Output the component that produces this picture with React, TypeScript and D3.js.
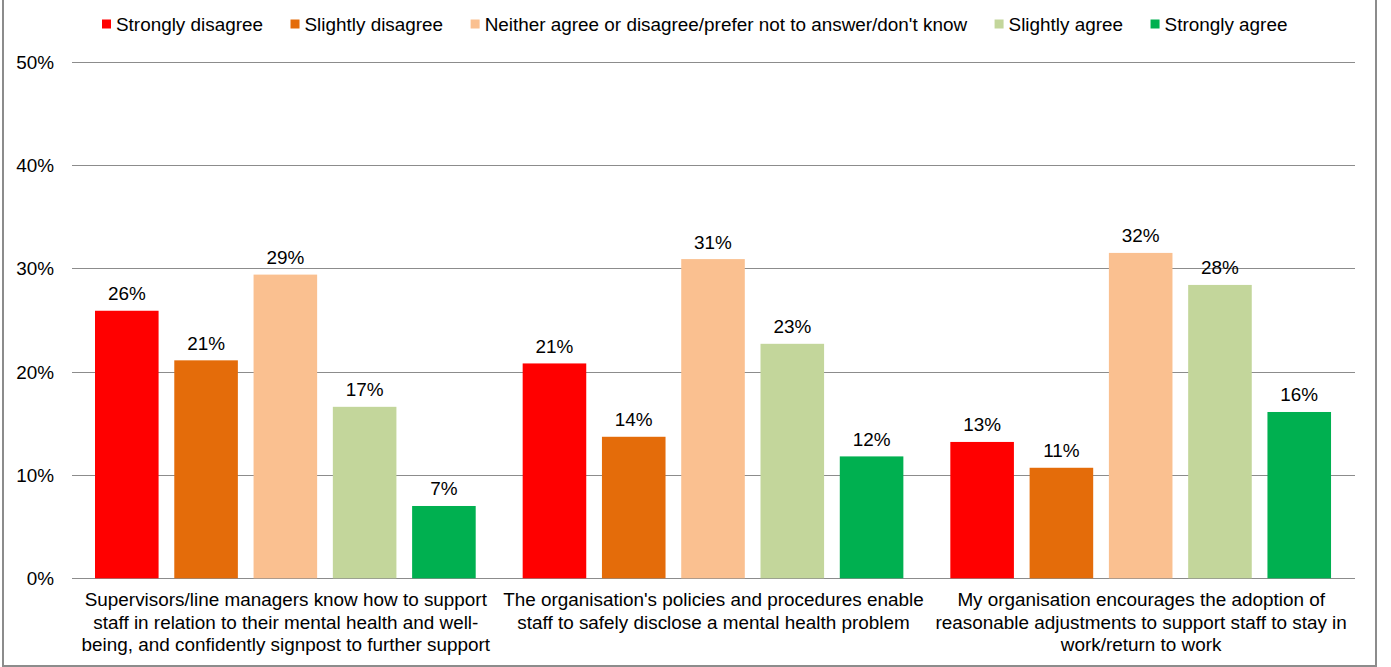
import React, { useEffect, useRef } from "react";
import * as d3 from "d3";

const seriesNames = [
  "Strongly disagree",
  "Slightly disagree",
  "Neither agree or disagree/prefer not to answer/don't know",
  "Slightly agree",
  "Strongly agree",
];
const seriesColors = ["#FF0000", "#E46C0A", "#FAC090", "#C3D69B", "#00B050"];
const categoryLines = [
  [
    "Supervisors/line managers know how to support",
    "staff in relation to their mental health and well-",
    "being, and confidently signpost to further support",
  ],
  [
    "The organisation's policies and procedures enable",
    "staff to safely disclose a mental health problem",
  ],
  [
    "My organisation encourages the adoption of",
    "reasonable adjustments to support staff to stay in",
    "work/return to work",
  ],
];
// values in %, per category, per series
const stronglyDisagree = [25.9, 20.8, 13.2];
const slightlyDisagree = [21.1, 13.7, 10.7];
const neither = [29.4, 30.9, 31.5];
const slightlyAgree = [16.6, 22.7, 28.4];
const stronglyAgree = [7.0, 11.8, 16.1];
const seriesValues = [stronglyDisagree, slightlyDisagree, neither, slightlyAgree, stronglyAgree];
const yTicks = [0, 10, 20, 30, 40, 50];

const W = 1391;
const H = 667;
const FONT = "'Liberation Sans', Arial, sans-serif";
const FS = 18.9;

export default function App() {
  const ref = useRef<SVGSVGElement>(null);

  useEffect(() => {
    const svg = d3.select(ref.current);
    svg.selectAll("*").remove();

    const left = 72, right = 1355, top = 61.8, bottom = 578.3;

    svg.append("rect")
      .attr("x", 3).attr("y", -2).attr("width", 1373).attr("height", 668)
      .attr("fill", "#fff").attr("stroke", "#8c8c8c").attr("stroke-width", 2);

    const x0 = d3.scaleBand<number>().domain([0, 1, 2]).range([left, right]).paddingInner(0).paddingOuter(0);
    const x1 = d3.scaleBand<number>().domain([0, 1, 2, 3, 4])
      .range([23, 23 + 380.7]).paddingInner(0.198).paddingOuter(0);
    const y = d3.scaleLinear().domain([0, 50]).range([bottom, top]);

    // gridlines
    svg.append("g").selectAll("line").data(yTicks).join("line")
      .attr("x1", left).attr("x2", right)
      .attr("y1", (d) => Math.round(y(d)) + 0.5).attr("y2", (d) => Math.round(y(d)) + 0.5)
      .attr("stroke", "#8c8c8c").attr("stroke-width", 1);

    // y tick labels
    svg.append("g").selectAll("text").data(yTicks).join("text")
      .attr("x", 54).attr("y", (d) => y(d) + 6.8)
      .attr("text-anchor", "end")
      .attr("font-family", FONT).attr("font-size", FS).attr("fill", "#000")
      .text((d) => `${d}%`);

    // bars
    const groups = svg.append("g").selectAll("g").data([0, 1, 2]).join("g")
      .attr("transform", (c) => `translate(${x0(c)},0)`);
    groups.each(function (c) {
      const g = d3.select(this);
      const items = seriesValues.map((vals, s) => ({ s, v: vals[c] }));
      g.selectAll("rect").data(items).join("rect")
        .attr("x", (d) => x1(d.s)!)
        .attr("width", x1.bandwidth())
        .attr("y", (d) => y(d.v))
        .attr("height", (d) => y(0) - y(d.v))
        .attr("fill", (d) => seriesColors[d.s]);
      g.selectAll("text").data(items).join("text")
        .attr("x", (d) => x1(d.s)! + x1.bandwidth() / 2)
        .attr("y", (d) => y(d.v) - 10.5)
        .attr("text-anchor", "middle")
        .attr("font-family", FONT).attr("font-size", FS).attr("fill", "#000")
        .text((d) => `${Math.round(d.v)}%`);
    });

    // category labels
    const cat = svg.append("g");
    categoryLines.forEach((lines, c) => {
      const cx = x0(c)! + x0.bandwidth() / 2;
      lines.forEach((ln, i) => {
        cat.append("text")
          .attr("x", cx).attr("y", 606 + i * 22.5)
          .attr("text-anchor", "middle")
          .attr("font-family", FONT).attr("font-size", FS).attr("fill", "#000")
          .text(ln);
      });
    });

    // legend
    const leg = svg.append("g");
    let lx = 102;
    seriesNames.forEach((name, i) => {
      leg.append("rect").attr("x", lx).attr("y", 19.5).attr("width", 9).attr("height", 9)
        .attr("fill", seriesColors[i]);
      const t = leg.append("text")
        .attr("x", lx + 14).attr("y", 31)
        .attr("font-family", FONT).attr("font-size", FS).attr("fill", "#000")
        .text(name);
      const w = (t.node() as SVGTextElement).getComputedTextLength();
      lx = lx + 14 + w + 27.5;
    });
  }, []);

  return (
    <svg
      ref={ref}
      width={W}
      height={H}
      style={{ position: "absolute", left: 0, top: 0, display: "block", background: "#fff" }}
    />
  );
}
